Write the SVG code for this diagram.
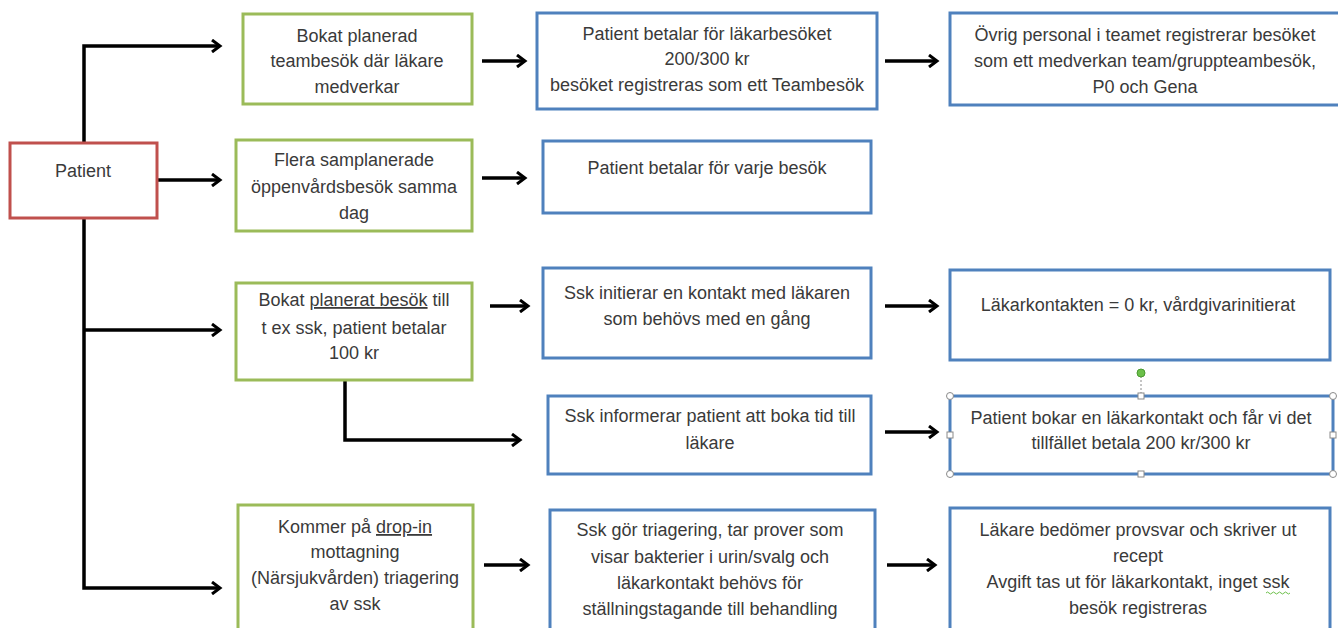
<svg xmlns="http://www.w3.org/2000/svg" width="1338" height="628" viewBox="0 0 1338 628">
<style>
.g{fill:#fff;stroke:#9BBB59;stroke-width:3}
.b{fill:#fff;stroke:#4F81BD;stroke-width:3}
.r{fill:#fff;stroke:#C0504D;stroke-width:3}
text{font-family:"Liberation Sans",Arial,sans-serif;font-size:18px;fill:#3a3a3a;text-anchor:middle}
.c{fill:none;stroke:#000;stroke-width:3.5}
.h{fill:#fff;stroke:#8a8a8a;stroke-width:1}
</style>
<defs>
<marker id="ah" markerWidth="12" markerHeight="14" refX="9" refY="7" orient="auto" markerUnits="userSpaceOnUse">
<path d="M1,1 L9,7 L1,13" fill="none" stroke="#000" stroke-width="3"/>
</marker>
</defs>
<g id="connectors">
<path class="c" d="M84,143 V46 H220" marker-end="url(#ah)"/>
<path class="c" d="M157,180 H220" marker-end="url(#ah)"/>
<path class="c" d="M84,218 V588 H220" marker-end="url(#ah)"/>
<path class="c" d="M84,330 H220" marker-end="url(#ah)"/>
<path class="c" d="M482,61 H525" marker-end="url(#ah)"/>
<path class="c" d="M482,178 H525" marker-end="url(#ah)"/>
<path class="c" d="M490,306 H528" marker-end="url(#ah)"/>
<path class="c" d="M345,380 V440 H520" marker-end="url(#ah)"/>
<path class="c" d="M484,565 H528" marker-end="url(#ah)"/>
<path class="c" d="M885,61 H937" marker-end="url(#ah)"/>
<path class="c" d="M885,306 H937" marker-end="url(#ah)"/>
<path class="c" d="M885,432 H937" marker-end="url(#ah)"/>
<path class="c" d="M887,565 H935" marker-end="url(#ah)"/>
</g>
<g id="patient"><rect class="r" x="10" y="143" width="147" height="75"/><text x="83" y="177">Patient</text></g>
<g id="n1"><rect class="g" x="243" y="14" width="229" height="90"/>
<text x="357" y="42">Bokat planerad</text><text x="357" y="67">teambesök där läkare</text><text x="357" y="93">medverkar</text></g>
<g id="n2"><rect class="g" x="236" y="140" width="236" height="91"/>
<text x="354" y="166">Flera samplanerade</text><text x="354" y="193">öppenvårdsbesök samma</text><text x="354" y="219">dag</text></g>
<g id="n3"><rect class="g" x="236" y="283" width="236" height="97"/>
<text x="354" y="306">Bokat <tspan text-decoration="underline">planerat besök</tspan> till</text><text x="354" y="334">t ex ssk, patient betalar</text><text x="354" y="359">100 kr</text></g>
<g id="n4"><rect class="g" x="238" y="505" width="235" height="125"/>
<text x="355" y="533">Kommer på <tspan text-decoration="underline">drop-in</tspan></text><text x="355" y="558">mottagning</text><text x="355" y="584">(Närsjukvården) triagering</text><text x="355" y="610">av ssk</text></g>
<g id="nA"><rect class="b" x="537" y="13" width="340" height="96"/>
<text x="707" y="40">Patient betalar för läkarbesöket</text><text x="707" y="65">200/300 kr</text><text x="707" y="91">besöket registreras som ett Teambesök</text></g>
<g id="nB"><rect class="b" x="543" y="141" width="328" height="72"/>
<text x="707" y="174">Patient betalar för varje besök</text></g>
<g id="nC"><rect class="b" x="543" y="268" width="328" height="90"/>
<text x="707" y="299">Ssk initierar en kontakt med läkaren</text><text x="707" y="325">som behövs med en gång</text></g>
<g id="nD"><rect class="b" x="548" y="396" width="323" height="78"/>
<text x="710" y="422">Ssk informerar patient att boka tid till</text><text x="710" y="449">läkare</text></g>
<g id="nE"><rect class="b" x="550" y="510" width="325" height="120"/>
<text x="710" y="536">Ssk gör triagering, tar prover som</text><text x="710" y="563">visar bakterier i urin/svalg och</text><text x="710" y="589">läkarkontakt behövs för</text><text x="710" y="615">ställningstagande till behandling</text></g>
<g id="nF"><rect class="b" x="950" y="13" width="390" height="92"/>
<text x="1145" y="41">Övrig personal i teamet registrerar besöket</text><text x="1145" y="67">som ett medverkan team/gruppteambesök,</text><text x="1145" y="93">P0 och Gena</text></g>
<g id="nG"><rect class="b" x="950" y="270" width="380" height="90"/>
<text x="1138" y="311">Läkarkontakten = 0 kr, vårdgivarinitierat</text></g>
<g id="nH"><rect class="b" x="950" y="396" width="383" height="78"/>
<text x="1141" y="424">Patient bokar en läkarkontakt och får vi det</text><text x="1141" y="449">tillfället betala 200 kr/300 kr</text>
<line x1="1141" y1="376" x2="1141" y2="395" stroke="#8a8a8a" stroke-width="1" stroke-dasharray="2,2"/>
<circle cx="1141" cy="373" r="4" fill="#6CC04A" stroke="#4a9a30" stroke-width="1"/>
<circle class="h" cx="950" cy="396" r="3.5"/><circle class="h" cx="1333" cy="396" r="3.5"/>
<circle class="h" cx="950" cy="474" r="3.5"/><circle class="h" cx="1333" cy="474" r="3.5"/>
<rect class="h" x="1138" y="393" width="6" height="6"/><rect class="h" x="1138" y="471" width="6" height="6"/>
<rect class="h" x="947" y="432" width="6" height="6"/><rect class="h" x="1330" y="432" width="6" height="6"/></g>
<g id="nI"><rect class="b" x="950" y="508" width="380" height="122"/>
<text x="1138" y="536">Läkare bedömer provsvar och skriver ut</text><text x="1138" y="562">recept</text><text x="1138" y="588">Avgift tas ut för läkarkontakt, inget ssk</text><text x="1138" y="614">besök registreras</text>
<path d="M1266,593 q1.5,-2 3,0 t3,0 t3,0 t3,0 t3,0 t3,0 t3,0 t3,0" fill="none" stroke="#6CC04A" stroke-width="1"/></g>
</svg>
